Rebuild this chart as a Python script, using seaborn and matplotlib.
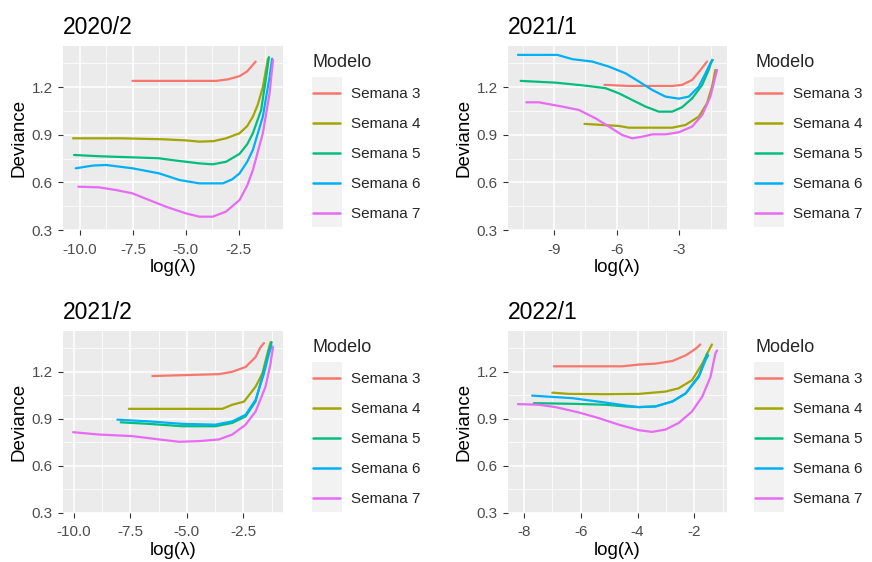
import numpy as np
import pandas as pd
import seaborn as sns
import matplotlib
matplotlib.use("Agg")
import matplotlib.pyplot as plt
from matplotlib.lines import Line2D
from matplotlib.patches import Rectangle
from matplotlib.ticker import FixedLocator

# ---------------- data ----------------
panel_titles = ["2020/2", "2021/1", "2021/2", "2022/1"]
series_names = ["Semana 3", "Semana 4", "Semana 5", "Semana 6", "Semana 7"]
colors = ["#F8766D", "#A3A500", "#00BF7D", "#00B0F6", "#E76BF3"]
y_ticks = [0.3, 0.6, 0.9, 1.2]
x_ticks_p1 = [-10.0, -7.5, -5.0, -2.5]
x_ticks_p2 = [-9, -6, -3]
x_ticks_p3 = [-10.0, -7.5, -5.0, -2.5]
x_ticks_p4 = [-8, -6, -4, -2]

# Panel 2020/2
p1_s3_x = [-7.52, -6.0, -4.5, -3.57, -3.0, -2.46, -2.1, -1.7]
p1_s3_y = [1.24, 1.24, 1.24, 1.24, 1.25, 1.27, 1.30, 1.362]
p1_s4_x = [-10.33, -8.0, -6.1, -5.0, -4.36, -3.7, -3.1, -2.46, -2.1, -1.83, -1.6, -1.36, -1.12]
p1_s4_y = [0.878, 0.878, 0.872, 0.865, 0.857, 0.860, 0.878, 0.91, 0.955, 1.015, 1.09, 1.20, 1.38]
p1_s5_x = [-10.28, -9.1, -7.5, -6.26, -5.6, -4.36, -3.73, -3.1, -2.46, -2.1, -1.83, -1.44, -1.2, -1.07]
p1_s5_y = [0.773, 0.765, 0.758, 0.752, 0.74, 0.72, 0.714, 0.73, 0.78, 0.84, 0.91, 1.057, 1.267, 1.39]
p1_s6_x = [-10.2, -9.4, -8.78, -7.52, -6.26, -5.3, -4.36, -3.25, -2.8, -2.46, -2.1, -1.83, -1.36, -1.04, -0.92]
p1_s6_y = [0.689, 0.706, 0.71, 0.689, 0.657, 0.615, 0.594, 0.594, 0.62, 0.657, 0.73, 0.805, 1.015, 1.267, 1.38]
p1_s7_x = [-10.08, -9.1, -8.3, -7.52, -6.73, -5.94, -5.0, -4.36, -3.73, -3.1, -2.46, -2.1, -1.83, -1.36, -1.04, -0.88]
p1_s7_y = [0.573, 0.569, 0.552, 0.531, 0.489, 0.447, 0.405, 0.384, 0.384, 0.416, 0.489, 0.58, 0.678, 0.91, 1.162, 1.372]

# Panel 2021/1
p2_s3_x = [-6.58, -5.42, -4.0, -3.35, -2.87, -2.39, -1.99, -1.68]
p2_s3_y = [1.215, 1.208, 1.208, 1.208, 1.215, 1.246, 1.309, 1.362]
p2_s4_x = [-7.54, -5.9, -5.42, -4.0, -3.35, -2.71, -2.07, -1.68, -1.44, -1.28]
p2_s4_y = [0.969, 0.956, 0.945, 0.945, 0.945, 0.962, 1.015, 1.099, 1.204, 1.309]
p2_s5_x = [-10.59, -8.92, -7.49, -6.53, -5.9, -5.26, -4.62, -3.98, -3.35, -2.87, -2.39, -1.91, -1.6, -1.44]
p2_s5_y = [1.24, 1.229, 1.21, 1.194, 1.162, 1.12, 1.078, 1.046, 1.046, 1.074, 1.13, 1.215, 1.309, 1.372]
p2_s6_x = [-10.72, -8.84, -8.12, -7.17, -6.37, -5.58, -4.94, -4.3, -3.67, -3.03, -2.55, -2.07, -1.75, -1.52, -1.4]
p2_s6_y = [1.404, 1.404, 1.377, 1.362, 1.33, 1.288, 1.236, 1.183, 1.141, 1.128, 1.141, 1.204, 1.288, 1.351, 1.372]
p2_s7_x = [-10.32, -9.72, -8.6, -7.81, -7.01, -6.37, -5.74, -5.26, -4.78, -4.3, -3.67, -3.03, -2.39, -1.91, -1.52, -1.2]
p2_s7_y = [1.105, 1.105, 1.078, 1.057, 1.004, 0.952, 0.899, 0.878, 0.888, 0.903, 0.903, 0.916, 0.952, 1.025, 1.141, 1.309]

# Panel 2021/2
p3_s3_x = [-6.52, -5.05, -3.58, -2.99, -2.4, -1.96, -1.74, -1.59]
p3_s3_y = [1.173, 1.179, 1.185, 1.2, 1.231, 1.294, 1.357, 1.383]
p3_s4_x = [-7.56, -5.5, -3.43, -2.99, -2.47, -1.96, -1.66, -1.44, -1.3]
p3_s4_y = [0.964, 0.964, 0.964, 0.99, 1.01, 1.105, 1.189, 1.315, 1.389]
p3_s5_x = [-7.92, -6.67, -5.2, -3.73, -2.99, -2.4, -1.96, -1.59, -1.37, -1.25]
p3_s5_y = [0.878, 0.868, 0.853, 0.853, 0.874, 0.916, 1.011, 1.21, 1.336, 1.389]
p3_s6_x = [-8.07, -6.67, -5.2, -3.73, -2.99, -2.4, -1.96, -1.59, -1.37, -1.25]
p3_s6_y = [0.895, 0.884, 0.868, 0.863, 0.884, 0.926, 1.021, 1.189, 1.315, 1.368]
p3_s7_x = [-10.03, -8.88, -7.41, -6.23, -5.35, -4.46, -3.58, -2.99, -2.4, -1.96, -1.52, -1.3, -1.19]
p3_s7_y = [0.815, 0.8, 0.79, 0.769, 0.754, 0.758, 0.769, 0.8, 0.863, 0.947, 1.105, 1.252, 1.357]

# Panel 2022/1
p4_s3_x = [-6.94, -4.54, -3.96, -3.37, -2.77, -2.3, -1.95, -1.79]
p4_s3_y = [1.235, 1.235, 1.246, 1.252, 1.269, 1.305, 1.347, 1.374]
p4_s4_x = [-7.0, -6.42, -5.13, -3.96, -3.01, -2.55, -2.08, -1.72, -1.49, -1.38]
p4_s4_y = [1.067, 1.059, 1.057, 1.059, 1.074, 1.095, 1.147, 1.252, 1.336, 1.374]
p4_s5_x = [-7.65, -6.3, -5.13, -4.42, -3.96, -3.37, -2.77, -2.3, -1.84, -1.61, -1.55]
p4_s5_y = [1.0, 0.996, 0.99, 0.979, 0.975, 0.979, 1.011, 1.063, 1.175, 1.283, 1.315]
p4_s6_x = [-7.71, -6.3, -5.13, -4.42, -3.96, -3.37, -2.77, -2.3, -1.84, -1.61, -1.51]
p4_s6_y = [1.048, 1.032, 1.004, 0.985, 0.975, 0.979, 1.011, 1.063, 1.168, 1.273, 1.305]
p4_s7_x = [-8.21, -7.47, -6.89, -6.07, -5.37, -4.66, -3.96, -3.49, -3.01, -2.55, -2.08, -1.72, -1.43, -1.26, -1.2]
p4_s7_y = [0.994, 0.99, 0.975, 0.941, 0.905, 0.863, 0.828, 0.817, 0.832, 0.874, 0.947, 1.042, 1.168, 1.315, 1.336]

panels = [
    ([(p1_s3_x, p1_s3_y), (p1_s4_x, p1_s4_y), (p1_s5_x, p1_s5_y), (p1_s6_x, p1_s6_y), (p1_s7_x, p1_s7_y)], x_ticks_p1, True),
    ([(p2_s3_x, p2_s3_y), (p2_s4_x, p2_s4_y), (p2_s5_x, p2_s5_y), (p2_s6_x, p2_s6_y), (p2_s7_x, p2_s7_y)], x_ticks_p2, False),
    ([(p3_s3_x, p3_s3_y), (p3_s4_x, p3_s4_y), (p3_s5_x, p3_s5_y), (p3_s6_x, p3_s6_y), (p3_s7_x, p3_s7_y)], x_ticks_p3, True),
    ([(p4_s3_x, p4_s3_y), (p4_s4_x, p4_s4_y), (p4_s5_x, p4_s5_y), (p4_s6_x, p4_s6_y), (p4_s7_x, p4_s7_y)], x_ticks_p4, False),
]

# ---------------- style ----------------
sns.set_theme(style="darkgrid")
plt.rcParams["font.family"] = ["Liberation Sans", "DejaVu Sans"]

W, H = 872, 562
fig = plt.figure(figsize=(W / 100, H / 100), dpi=100)
fig.patch.set_facecolor("white")

# panel boxes in pixels: left, top, right, bottom
boxes = [(63, 46, 283, 230), (508, 46, 727, 230), (63, 331, 283, 513), (508, 331, 727, 513)]
legend_x = [312, 754, 312, 754]
legend_top = [45, 45, 330, 330]

for i, (series, xt, one_dec) in enumerate(panels):
    l, t, r, b = boxes[i]
    ax = fig.add_axes([l / W, 1 - b / H, (r - l) / W, (b - t) / H])
    ax.set_facecolor("#EBEBEB")
    rows = []
    for name, (xs, ys) in zip(series_names, series):
        for xv, yv in zip(xs, ys):
            rows.append({"x": xv, "y": yv, "Modelo": name})
    df = pd.DataFrame(rows)
    sns.lineplot(data=df, x="x", y="y", hue="Modelo", hue_order=series_names,
                 palette=colors, sort=False, estimator=None, linewidth=1.6,
                 legend=False, ax=ax)
    ax.set_ylim(0.3, 1.46)
    ax.margins(x=0.05)
    ax.set_xticks(xt)
    if one_dec:
        ax.set_xticklabels([f"{v:.1f}" for v in xt])
    else:
        ax.set_xticklabels([f"{v:g}" for v in xt])
    ax.set_yticks(y_ticks)
    ax.set_yticklabels([f"{v:.1f}" for v in y_ticks])
    step = xt[1] - xt[0]
    minors = [xt[0] - step / 2] + [v + step / 2 for v in xt]
    ax.xaxis.set_minor_locator(FixedLocator(minors))
    ax.yaxis.set_minor_locator(FixedLocator([0.45, 0.75, 1.05, 1.35]))
    ax.grid(which="major", color="white", linewidth=1.1)
    ax.grid(which="minor", color="white", linewidth=0.55)
    for sp in ax.spines.values():
        sp.set_visible(False)
    ax.tick_params(axis="both", which="major", length=3.5, width=0.8, color="#333333",
                   labelsize=11, labelcolor="#4D4D4D", bottom=True, left=True)
    ax.tick_params(axis="x", which="major", pad=5.5)
    ax.tick_params(axis="y", which="major", pad=4)
    ax.tick_params(axis="both", which="minor", length=0)
    ax.set_xlabel("log(λ)", fontsize=13.5, color="black", labelpad=2)
    ax.set_ylabel("Deviance", fontsize=13.5, color="black", labelpad=3)
    ax.set_title(panel_titles[i], loc="left", fontsize=16.5, color="black", pad=8.5)

    handles = [Line2D([0], [0], color=c, lw=1.8) for c in colors]
    lx = legend_x[i]
    lt = legend_top[i]
    fig.patches.append(Rectangle((lx / W, 1 - (lt + 182) / H), 30 / W, 150 / H,
                                 transform=fig.transFigure, facecolor="#F2F2F2",
                                 edgecolor="none", zorder=-1))
    leg = ax.legend(handles, series_names, title="Modelo", loc="upper left",
                    bbox_to_anchor=((lx + 1) / W, 1 - (lt + 9) / H),
                    bbox_transform=fig.transFigure, frameon=False,
                    fontsize=11, title_fontsize=13, handlelength=1.75,
                    handletextpad=0.75, labelspacing=1.05, borderpad=0,
                    borderaxespad=0, alignment="left")

fig.savefig("out.png", dpi=100)
